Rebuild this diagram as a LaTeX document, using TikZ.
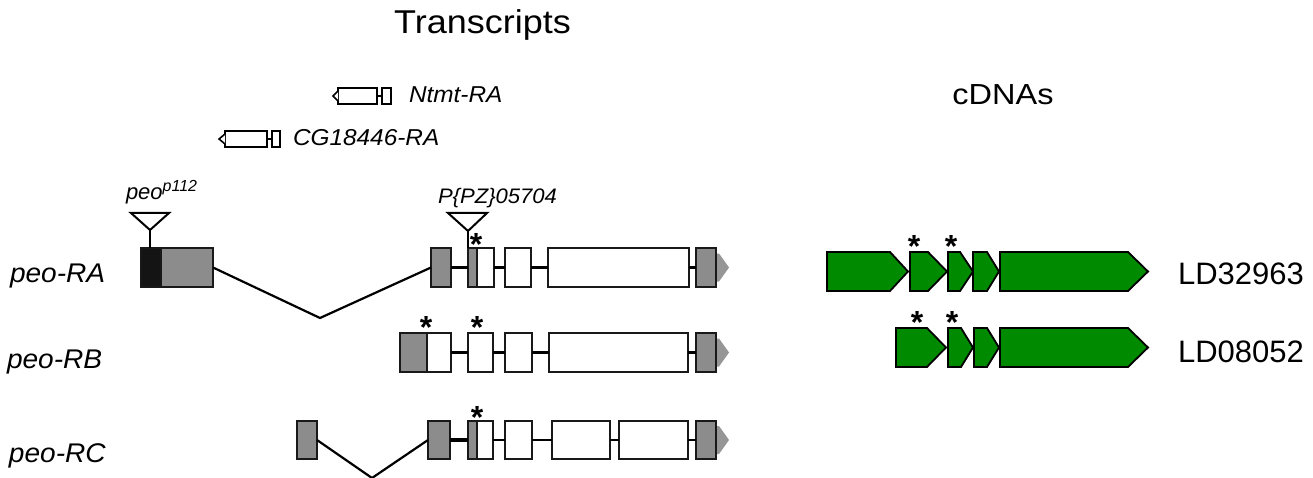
\documentclass[tikz,border=0pt]{standalone}
\usepackage{fontspec}
\setmainfont{Liberation Sans}
\definecolor{utrgray}{RGB}{140,140,140}
\definecolor{tailgray}{RGB}{150,150,150}
\definecolor{cdnagreen}{RGB}{0,138,0}
% exon box from x1 to x2 and y1 to y2 (pixel-like units)
\newcommand\exonbox[6]{%
  \node[#1, minimum width={#4-#3}, minimum height={#6-#5}] (#2)
    at ({(#3+#4)/2},{(#5+#6)/2}) {};}
% grey transcription-direction arrow at the 3' end of a transcript
\newcommand\tailarrow[2]{%
  \fill[tailgray] (#1,{#2-14}) -- ({#1+3},{#2-14}) -- ({#1+13},#2)
    -- ({#1+3},{#2+14}) -- (#1,{#2+14}) -- cycle;}
% cDNA segment drawn as a pentagon arrow: start, shoulder, tip, centre line
\newcommand\cdsarrow[4]{%
  \draw[cdna] (#1,{#4-19.5}) -- (#2,{#4-19.5}) -- (#3,#4)
    -- (#2,{#4+19.5}) -- (#1,{#4+19.5}) -- cycle;}
\newcommand\hs[2]{\scalebox{#1}[1]{#2}}
\begin{document}
\begin{tikzpicture}[x=1pt,y=-1pt,
  exon/.style={draw=black!90, line width=2.4pt, inner sep=0pt, outer sep=0pt, rectangle},
  utr/.style={exon, fill=utrgray},
  cds/.style={exon, fill=white},
  mut/.style={exon, fill=black!92},
  small/.style={draw=black, line width=1.6pt, fill=white, inner sep=0pt, outer sep=0pt, rectangle},
  intron/.style={draw=black, line width=2.2pt},
  thick intron/.style={draw=black, line width=3.4pt},
  ins/.style={draw=black, line width=2pt, line join=miter},
  cdna/.style={fill=cdnagreen, draw=black, line width=1.8pt, line join=miter},
  lab/.style={inner sep=0pt, outer sep=0pt, anchor=base west},
  clab/.style={inner sep=0pt, outer sep=0pt, anchor=base},
  star/.style={inner sep=0pt, outer sep=0pt, anchor=base,
    font=\fontsize{32}{34}\selectfont\bfseries},
]
\useasboundingbox (0,0) rectangle (1313,478);

% ---------- headings ----------
\node[clab, font=\fontsize{33}{36}\selectfont] (ttl) at (482.5,34) {\hs{1.09}{Transcripts}};
\node[clab, font=\fontsize{29}{32}\selectfont] (cttl) at (1003,105) {\hs{1.12}{cDNAs}};

% ---------- neighbouring genes ----------
\exonbox{small}{ntA}{338}{377}{88}{104}
\exonbox{small}{ntB}{382}{391}{88}{104}
\draw[line width=1.6pt] (ntA.east) -- (ntB.west);
\draw[line width=1.6pt, fill=white] (ntA.west) ++(0,-5) -- ++(-5,5) -- ++(5,5);
\node[lab, font=\fontsize{23}{26}\selectfont\itshape] (ntl) at (409,103) {\hs{1.06}{Ntmt-RA}};

\exonbox{small}{cgA}{225}{267}{131}{147}
\exonbox{small}{cgB}{272}{280}{131}{147}
\draw[line width=1.6pt] (cgA.east) -- (cgB.west);
\draw[line width=1.6pt, fill=white] (cgA.west) ++(0,-5) -- ++(-6,5) -- ++(6,5);
\node[lab, font=\fontsize{23}{26}\selectfont\itshape] (cgl) at (293,146) {\hs{1.06}{CG18446-RA}};

% ---------- peo-RA ----------
\tailarrow{716}{267.5}
\exonbox{mut}{raA}{141}{161}{248}{287}
\exonbox{utr}{raB}{161}{213}{248}{287}
\exonbox{utr}{raC}{431}{451}{248}{287}
\exonbox{utr}{raD}{468}{477}{248}{287}
\exonbox{cds}{raE}{477}{494}{248}{287}
\exonbox{cds}{raF}{505}{531}{248}{287}
\exonbox{cds}{raG}{548}{689}{248}{287}
\exonbox{utr}{raH}{696}{716}{248}{287}
\coordinate (raV) at (320,318);
\draw[intron] (raB.east) -- (raV) -- (raC.west);
\draw[intron] (raC.east) -- (raD.west);
\draw[intron] (raE.east) -- (raF.west);
\draw[intron] (raF.east) -- (raG.west);
\draw[intron] (raG.east) -- (raH.west);
\node[lab, font=\fontsize{27}{30}\selectfont\itshape] (ral) at (10,282) {\hs{1.04}{peo-RA}};

% insertion peo[p112]
\draw[ins] (131,213) -- (169,213) -- (150,230) -- cycle;
\coordinate (p112) at (150,230);
\draw[ins] (p112) -- (p112 |- raA.north);
\node[lab, font=\fontsize{22}{24}\selectfont\itshape] (p112l) at (126,200)
  {peo\raisebox{8pt}{\fontsize{16}{18}\selectfont p112}};

% insertion P{PZ}05704
\draw[ins] (448,213) -- (487,213) -- (468,231) -- cycle;
\coordinate (pz) at (468,231);
\draw[ins] (pz) -- (pz |- raD.north);
\node[lab, font=\fontsize{21}{24}\selectfont\itshape] (pzl) at (438,204) {\hs{1.05}{P\{PZ\}05704}};
\node[star] (sa1) at (476,255) {*};

% ---------- peo-RB ----------
\tailarrow{716}{352.5}
\exonbox{utr}{rbA}{400}{427}{333}{372}
\exonbox{cds}{rbB}{427}{451}{333}{372}
\exonbox{cds}{rbC}{468}{493}{333}{372}
\exonbox{cds}{rbD}{505}{532}{333}{372}
\exonbox{cds}{rbE}{549}{688}{333}{372}
\exonbox{utr}{rbF}{696}{716}{333}{372}
\draw[intron] (rbB.east) -- (rbC.west);
\draw[intron] (rbC.east) -- (rbD.west);
\draw[intron] (rbD.east) -- (rbE.west);
\draw[intron] (rbE.east) -- (rbF.west);
\node[lab, font=\fontsize{27}{30}\selectfont\itshape] (rbl) at (7,368) {\hs{1.04}{peo-RB}};
\node[star] (sb1) at (426,338) {*};
\node[star] (sb2) at (477,338) {*};

% ---------- peo-RC ----------
\tailarrow{716}{440}
\exonbox{utr}{rcA}{297}{317}{421}{459}
\exonbox{utr}{rcB}{428}{450}{421}{459}
\exonbox{utr}{rcC}{468}{477}{421}{459}
\exonbox{cds}{rcD}{477}{493}{421}{459}
\exonbox{cds}{rcE}{505}{532}{421}{459}
\exonbox{cds}{rcF}{552}{610}{421}{459}
\exonbox{cds}{rcG}{619}{688}{421}{459}
\exonbox{utr}{rcH}{696}{716}{421}{459}
\coordinate (rcV) at (372,478);
\draw[intron] (rcA.east) -- (rcV) -- (rcB.west);
\draw[thick intron] (rcB.east) -- (rcC.west);
\draw[intron] (rcD.east) -- (rcE.west);
\draw[intron] (rcE.east) -- (rcF.west);
\draw[intron] (rcF.east) -- (rcG.west);
\draw[intron] (rcG.east) -- (rcH.west);
\node[lab, font=\fontsize{27}{30}\selectfont\itshape] (rcl) at (9,462) {\hs{1.04}{peo-RC}};
\node[star] (sc1) at (477,428) {*};

% ---------- cDNAs ----------
\cdsarrow{827}{890}{908}{271.5}
\cdsarrow{910}{928}{947}{271.5}
\cdsarrow{948}{960}{973}{271.5}
\cdsarrow{973}{987}{999}{271.5}
\cdsarrow{1000}{1128}{1148}{271.5}
\node[star] (sd1) at (914,257) {*};
\node[star] (sd2) at (951,257) {*};
\node[lab, font=\fontsize{31}{34}\selectfont] (ld1) at (1178,284) {LD32963};

\cdsarrow{896}{927}{946}{347.5}
\cdsarrow{948}{961}{973}{347.5}
\cdsarrow{974}{987}{999}{347.5}
\cdsarrow{1000}{1128}{1148}{347.5}
\node[star] (se1) at (917,333) {*};
\node[star] (se2) at (952,333) {*};
\node[lab, font=\fontsize{31}{34}\selectfont] (ld2) at (1178,362) {LD08052};
\end{tikzpicture}
\end{document}
